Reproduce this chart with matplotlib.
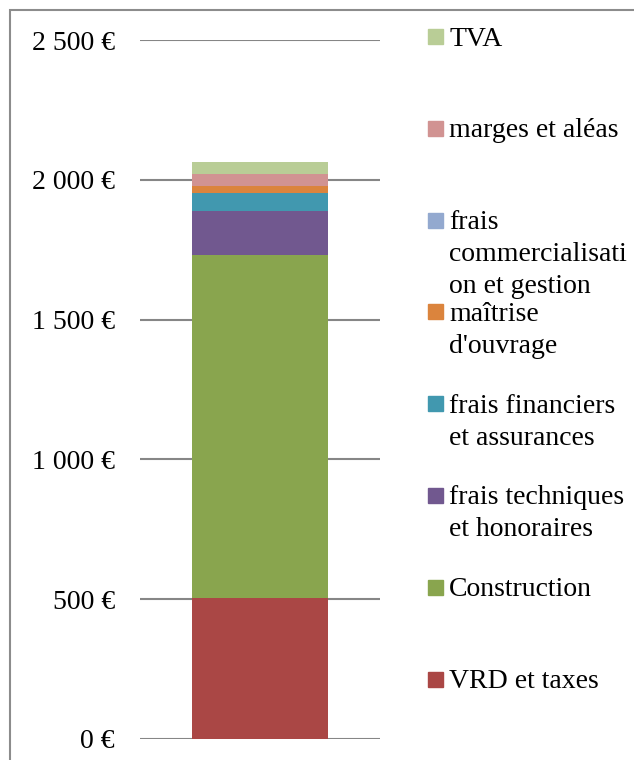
import matplotlib
matplotlib.use("Agg")
import matplotlib.pyplot as plt
from matplotlib.patches import Rectangle

# stacked from bottom to top
categories = [
    "VRD et taxes",
    "Construction",
    "frais techniques\net honoraires",
    "frais financiers\net assurances",
    "maîtrise\nd'ouvrage",
    "frais\ncommercialisati\non et gestion",
    "marges et aléas",
    "TVA",
]
values = [505, 1227, 157, 64, 25, 0, 44, 42]
colors = ["#AA4745", "#89A54E", "#71588F", "#4198AF",
          "#DB843D", "#93A9CF", "#D19392", "#B9CD96"]

yticks = [0, 500, 1000, 1500, 2000, 2500]
ytick_labels = ["0 €", "500 €", "1 000 €", "1 500 €", "2 000 €", "2 500 €"]

W, H = 634, 760
plt.rcParams['font.family'] = ['Liberation Serif', 'DejaVu Serif']

fig = plt.figure(figsize=(W / 100, H / 100), dpi=100)

# chart area border (runs off the right and bottom edges)
fig.patches.append(Rectangle((10 / W, -0.1), 1.2, 1.1 - 10 / H, fill=False,
                             edgecolor='#8c8c8c', linewidth=1.5,
                             transform=fig.transFigure, figure=fig))

ax = fig.add_axes([140 / W, 1 - 739 / H, 240 / W, 699 / H])
bottom = 0
for name, v, c in zip(categories, values, colors):
    ax.bar(0, v, width=0.57, bottom=bottom, color=c, label=name)
    bottom += v

ax.set_xlim(-0.5, 0.5)
ax.set_ylim(0, 2500)
ax.set_yticks(yticks, ytick_labels)
ax.set_axisbelow(True)
ax.yaxis.grid(True, color='#868686', linewidth=1.5)
ax.tick_params(left=False, bottom=False, labelbottom=False,
               labelsize=20, pad=14.5)
for s in ax.spines.values():
    s.set_visible(False)

# legend, top entry = last series
step = (679 - 36.7) / 7
for i, (name, c) in enumerate(zip(categories[::-1], colors[::-1])):
    yc = 36.7 + i * step
    fig.patches.append(Rectangle((428 / W, 1 - (yc + 7.5) / H), 15 / W, 15 / H,
                                 color=c, transform=fig.transFigure, figure=fig))
    for j, line in enumerate(name.split('\n')):
        fig.text(449 / W, 1 - (yc + 8.8 + j * 32) / H, line,
                 fontsize=20, va='baseline', ha='left')

fig.savefig("out.png", dpi=100)
